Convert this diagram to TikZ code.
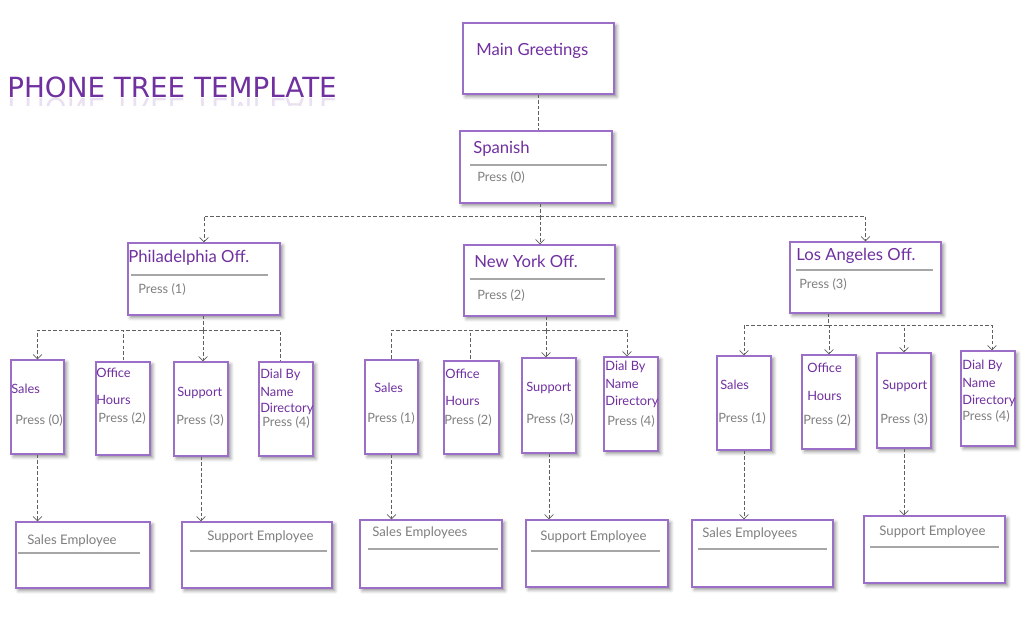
\documentclass[tikz,border=0pt]{standalone}
\usepackage{fontspec}
\setmainfont{Lato}
\newfontfamily\headfont{DejaVu Sans}
\usetikzlibrary{arrows.meta,fit,shadows.blur,positioning}

\definecolor{treepurple}{HTML}{7030A0}
\definecolor{boxline}{HTML}{9B6FC8}
\definecolor{greytext}{HTML}{7F7F7F}
\definecolor{rulegrey}{HTML}{A6A6A6}
\definecolor{linkgrey}{HTML}{5F5F5F}

\tikzset{
  card/.style = {draw = boxline, line width = 0.7pt, fill = white, inner sep = 0pt,
    blur shadow = {shadow xshift = 1.5pt, shadow yshift = -1.5pt,
      shadow blur steps = 4, shadow opacity = 45}},
  greet/.style = {right, inner sep = 0pt, text = treepurple, font = \fontsize{9.5}{11}\selectfont},
  small/.style = {right, inner sep = 0pt, text = treepurple, font = \fontsize{7.3}{8}\selectfont},
  press/.style = {right, inner sep = 0pt, text = greytext, font = \fontsize{7.3}{8}\selectfont},
  emp/.style = {right, inner sep = 0pt, text = greytext, font = \fontsize{7.5}{9}\selectfont},
  rule/.style = {draw = rulegrey, line width = 0.6pt},
  link/.style = {draw = linkgrey, line width = 0.45pt, dash pattern = on 2pt off 1.2pt},
  arr/.style = {link, -{Straight Barb[length = 2.5pt, width = 5pt]}}
}

\begin{document}
\begin{tikzpicture}[x = 0.02cm, y = -0.02cm]
      \useasboundingbox (0, 0) rectangle (1024, 616);

      % title with its reflection
      \node [anchor = base west, inner sep = 0pt, text = treepurple, font = \headfont\fontsize{15.8}{18}\selectfont] (title) at (7, 97) {PHONE TREE TEMPLATE};
      \begin{scope}
        \clip (0, 98) rectangle (350, 105);
        \node [anchor = base west, inner sep = 0pt, yscale = -1, opacity = 0.15, text = treepurple, font = \headfont\fontsize{15.8}{18}\selectfont] (mirror) at (7, 98) {PHONE TREE TEMPLATE};
      \end{scope}

      % top of the tree
      \node [card, fit = {(463, 23) (614, 94)}] (main) {};
      \node [greet] (mainT) at (476, 51) {Main Greetings};
      \node [card, fit = {(460, 131) (612, 203)}] (spanish) {};
      \node [greet] (spanishT) at (473, 149) {Spanish};
      \draw [rule] (470, 165) -- (607, 165);
      \node [press] (spanishP) at (477, 177) {Press (0)};

      % offices
      \node [card, fit = {(128, 243) (280, 315)}] (phil) {};
      \node [greet] (philT) at (128, 258) {Philadelphia Off.};
      \draw [rule] (131, 275) -- (268, 275);
      \node [press] (philP) at (138, 289) {Press (1)};
      \node [card, fit = {(464, 245) (615, 316)}] (ny) {};
      \node [greet] (nyT) at (474, 261) {New York Off.};
      \draw [rule] (470, 279) -- (605, 279);
      \node [press] (nyP) at (477, 295) {Press (2)};
      \node [card, fit = {(790, 242) (941, 313)}] (la) {};
      \node [greet] (laT) at (796, 256) {Los Angeles Off.};
      \draw [rule] (796, 270) -- (933, 270);
      \node [press] (laP) at (799, 284) {Press (3)};

      % Philadelphia options
      \node [card, fit = {(11, 360) (64, 454)}] (s1) {};
      \node [small] (s1T) at (11, 389) {Sales};
      \node [press] (s1P) at (15, 420) {Press (0)};
      \node [card, fit = {(96, 362) (150, 455)}] (o1) {};
      \node [small] (o1T) at (96, 373) {Office};
      \node [small] (o1U) at (96, 400) {Hours};
      \node [press] (o1P) at (98, 418) {Press (2)};
      \node [card, fit = {(174, 362) (228, 456)}] (u1) {};
      \node [small] (u1T) at (177, 393) {Support};
      \node [press] (u1P) at (176, 420) {Press (3)};
      \node [card, fit = {(259, 362) (313, 456)}] (d1) {};
      \node [small] (d1T) at (260, 375) {Dial By};
      \node [small] (d1U) at (260, 392) {Name};
      \node [small] (d1V) at (260, 409) {Directory};
      \node [press] (d1P) at (262, 422) {Press (4)};

      % New York options
      \node [card, fit = {(365, 360) (418, 454)}] (s2) {};
      \node [small] (s2T) at (374, 388) {Sales};
      \node [press] (s2P) at (367, 418) {Press (1)};
      \node [card, fit = {(444, 361) (499, 454)}] (o2) {};
      \node [small] (o2T) at (445, 374) {Office};
      \node [small] (o2U) at (445, 401) {Hours};
      \node [press] (o2P) at (444, 420) {Press (2)};
      \node [card, fit = {(522, 358) (576, 453)}] (u2) {};
      \node [small] (u2T) at (526, 388) {Support};
      \node [press] (u2P) at (526, 419) {Press (3)};
      \node [card, fit = {(604, 357) (658, 451)}] (d2) {};
      \node [small] (d2T) at (605, 367) {Dial By};
      \node [small] (d2U) at (605, 384) {Name};
      \node [small] (d2V) at (605, 402) {Directory};
      \node [press] (d2P) at (607, 421) {Press (4)};

      % Los Angeles options
      \node [card, fit = {(717, 356) (771, 450)}] (s3) {};
      \node [small] (s3T) at (720, 385) {Sales};
      \node [press] (s3P) at (718, 418) {Press (1)};
      \node [card, fit = {(802, 355) (856, 449)}] (o3) {};
      \node [small] (o3T) at (807, 368) {Office};
      \node [small] (o3U) at (807, 396) {Hours};
      \node [press] (o3P) at (803, 420) {Press (2)};
      \node [card, fit = {(877, 353) (931, 448)}] (u3) {};
      \node [small] (u3T) at (882, 386) {Support};
      \node [press] (u3P) at (880, 419) {Press (3)};
      \node [card, fit = {(961, 351) (1015, 446)}] (d3) {};
      \node [small] (d3T) at (962, 366) {Dial By};
      \node [small] (d3U) at (962, 383) {Name};
      \node [small] (d3V) at (962, 401) {Directory};
      \node [press] (d3P) at (962, 416) {Press (4)};

      % employees
      \node [card, fit = {(16, 522) (150, 588)}] (e1) {};
      \node [emp] (e1T) at (27, 541) {Sales Employee};
      \draw [rule] (18, 553) -- (140, 553);
      \node [card, fit = {(182, 522) (332, 588)}] (e2) {};
      \node [emp] (e2T) at (207, 537) {Support Employee};
      \draw [rule] (190, 551) -- (327, 551);
      \node [card, fit = {(360, 520) (502, 588)}] (e3) {};
      \node [emp] (e3T) at (372, 533) {Sales Employees};
      \draw [rule] (368, 549) -- (498, 549);
      \node [card, fit = {(526, 520) (668, 587)}] (e4) {};
      \node [emp] (e4T) at (540, 537) {Support Employee};
      \draw [rule] (531, 551) -- (660, 551);
      \node [card, fit = {(692, 520) (833, 587)}] (e5) {};
      \node [emp] (e5T) at (702, 534) {Sales Employees};
      \draw [rule] (698, 549) -- (827, 549);
      \node [card, fit = {(864, 516) (1005, 583)}] (e6) {};
      \node [emp] (e6T) at (879, 532) {Support Employee};
      \draw [rule] (870, 547) -- (999, 547);

      % connectors
      \coordinate (b0) at (540, 216);
      \coordinate (b1) at (203, 330);
      \coordinate (b2) at (546, 330);
      \coordinate (b3) at (828, 325);
      \draw [link] (main.south) -- (main.south |- spanish.north);
      \draw [link] (b0 |- spanish.south) -- (b0);
      \draw [arr] (b0) -| (phil.north);
      \draw [arr] (b0) -- (b0 |- ny.north);
      \draw [arr] (b0) -| (la.north);

      \draw [link] (b1 |- phil.south) -- (b1);
      \draw [arr] (b1) -| (s1.north);
      \draw [link] (b1) -| (o1.north);
      \draw [arr] (b1) -- (b1 |- u1.north);
      \draw [link] (b1) -| ([xshift = -0.12cm] d1.north);

      \draw [link] (b2 |- ny.south) -- (b2);
      \draw [link] (b2) -| (s2.north);
      \draw [link] (b2) -| ([xshift = -0.03cm] o2.north);
      \draw [arr] (b2) -- (b2 |- u2.north);
      \draw [arr] (b2) -| ([xshift = -0.08cm] d2.north);

      \draw [link] (b3 |- la.south) -- (b3);
      \draw [arr] (b3) -| (s3.north);
      \draw [arr] (b3) -| (o3.north);
      \draw [arr] (b3) -| (u3.north);
      \draw [arr] (b3) -| ([xshift = 0.08cm] d3.north);

      \draw [arr] (s1.south) -- (s1.south |- e1.north);
      \draw [arr] (u1.south) -- (u1.south |- e2.north);
      \draw [arr] (s2.south) -- (s2.south |- e3.north);
      \draw [arr] (u2.south) -- (u2.south |- e4.north);
      \draw [arr] (s3.south) -- (s3.south |- e5.north);
      \draw [arr] (u3.south) -- (u3.south |- e6.north);
    \end{tikzpicture}
\end{document}
